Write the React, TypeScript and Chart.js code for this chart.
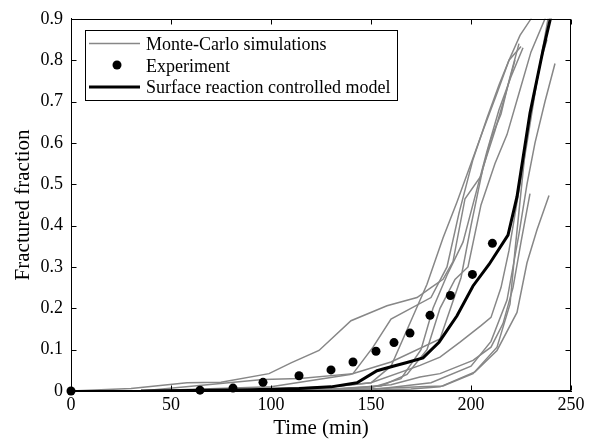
import React, { useEffect, useRef } from "react";
import { Chart, registerables } from "chart.js";

Chart.register(...registerables);

const FONT = "'Liberation Serif', 'Times New Roman', serif";

const xTickValues = [0, 50, 100, 150, 200, 250];
const yTickValues = [0, 0.1, 0.2, 0.3, 0.4, 0.5, 0.6, 0.7, 0.8, 0.9];

const legendLabels = ["Monte-Carlo simulations", "Experiment", "Surface reaction controlled model"];

// Experiment
const expTime = [0, 64.5, 81, 96, 114, 130, 141, 152.5, 161.5, 169.5, 179.5, 189.7, 200.7, 210.7];
const expFrac = [0, 0.002, 0.007, 0.021, 0.037, 0.051, 0.07, 0.096, 0.117, 0.14, 0.183, 0.231, 0.282, 0.357];

// Surface reaction controlled model
const modelTime = [35, 60, 90, 114, 130, 143, 153, 161, 168, 176, 184, 193, 201, 209, 218.5, 223, 229.5, 236, 239.5, 242];
const modelFrac = [0, 0.001, 0.003, 0.006, 0.01, 0.02, 0.049, 0.06, 0.069, 0.08, 0.118, 0.182, 0.254, 0.306, 0.377, 0.47, 0.672, 0.824, 0.896, 0.95];

// Monte-Carlo simulations: [time, fraction]
const mc1: [number, number][] = [[0, 0], [30, 0.006], [58, 0.02], [75, 0.021], [99, 0.042], [110, 0.068], [124, 0.098], [140, 0.17], [158, 0.206], [173, 0.226], [180, 0.25], [186, 0.27], [191, 0.313], [197, 0.465], [205, 0.52], [210, 0.61], [215, 0.67], [219, 0.75], [224, 0.84]];
const mc2: [number, number][] = [[35, 0], [96, 0.028], [114.5, 0.03], [141, 0.042], [151, 0.106], [160, 0.174], [180, 0.226], [188, 0.3], [194, 0.43], [201, 0.56], [208, 0.66], [214, 0.74], [219, 0.8], [225, 0.833]];
const mc3: [number, number][] = [[40, 0], [100, 0.005], [130, 0.01], [150, 0.02], [160, 0.06], [170, 0.17], [178, 0.258], [186, 0.37], [193, 0.457], [200, 0.55], [206, 0.63], [213, 0.72], [219, 0.8], [224.5, 0.86], [230, 0.9], [232, 0.95]];
const mc4: [number, number][] = [[60, 0], [120, 0.003], [150, 0.008], [165, 0.03], [175, 0.1], [181, 0.2], [188, 0.28], [196, 0.36], [202, 0.47], [208, 0.58], [214, 0.68], [220, 0.76], [226, 0.83]];
const mc5: [number, number][] = [[40, 0], [130, 0.005], [155, 0.012], [168, 0.04], [178, 0.1], [184.5, 0.2], [192, 0.27], [198.5, 0.3], [205, 0.45], [212, 0.55], [218, 0.62], [224, 0.72], [230, 0.82], [237, 0.9], [239, 0.95]];
const mc6: [number, number][] = [[50, 0], [120, 0.005], [150, 0.02], [174.5, 0.062], [184.5, 0.082], [194.5, 0.118], [205, 0.158], [210, 0.178], [215, 0.25], [219, 0.34], [224.5, 0.5], [228, 0.6], [233, 0.75], [238.5, 0.9], [240, 0.95]];
const mc7: [number, number][] = [[50, 0], [130, 0.003], [160, 0.015], [174.5, 0.034], [184.5, 0.042], [201, 0.074], [210, 0.106], [216, 0.163], [221, 0.25], [225, 0.36], [229.5, 0.477]];
const mc8: [number, number][] = [[60, 0], [140, 0.003], [174.5, 0.01], [186, 0.012], [201, 0.042], [213, 0.106], [219.5, 0.21], [222, 0.34], [227.5, 0.6], [231, 0.7], [235, 0.8], [238, 0.85]];
const mc9: [number, number][] = [[0, 0], [100, 0], [150, 0.002], [170, 0.005], [184.5, 0.01], [202, 0.046], [213, 0.098], [223, 0.19], [228, 0.31], [233, 0.39], [239, 0.473]];
const mc10: [number, number][] = [[80, 0], [150, 0.003], [180, 0.02], [200, 0.06], [210, 0.12], [218, 0.22], [224, 0.38], [228, 0.5], [232, 0.6], [237, 0.7], [242, 0.792]];
const mc11: [number, number][] = [[35, 0], [100, 0.01], [139.5, 0.04], [160, 0.07], [184.5, 0.126], [195, 0.274], [200, 0.4], [206, 0.54], [212, 0.63], [218, 0.73], [222, 0.8]];

const mcRuns = [mc1, mc2, mc3, mc4, mc5, mc6, mc7, mc8, mc9, mc10, mc11];

const GRAY = "rgb(135,135,135)";

function drawFrame(chart: any) {
  const ctx: CanvasRenderingContext2D = chart.ctx;
  const xs = chart.scales.x;
  const ys = chart.scales.y;
  const L = Math.round(xs.getPixelForValue(xTickValues[0])) + 0.5;
  const R = Math.round(xs.getPixelForValue(xTickValues[xTickValues.length - 1])) - 0.5;
  const T = Math.round(ys.getPixelForValue(yTickValues[yTickValues.length - 1])) + 0.5;
  const B = Math.round(ys.getPixelForValue(yTickValues[0])) - 0.5;
  ctx.save();
  ctx.strokeStyle = "#000000";
  ctx.lineWidth = 1;
  ctx.strokeRect(L, T, R - L, B - T);
  const tl = 5;
  for (const v of xTickValues) {
    const px = Math.round(xs.getPixelForValue(v)) + 0.5;
    ctx.beginPath();
    ctx.moveTo(px, B);
    ctx.lineTo(px, B - tl);
    ctx.stroke();
    ctx.beginPath();
    ctx.moveTo(px, T);
    ctx.lineTo(px, T + tl);
    ctx.stroke();
  }
  for (const v of yTickValues) {
    const py = Math.round(ys.getPixelForValue(v)) + 0.5;
    ctx.beginPath();
    ctx.moveTo(L, py);
    ctx.lineTo(L + tl, py);
    ctx.stroke();
    ctx.beginPath();
    ctx.moveTo(R, py);
    ctx.lineTo(R - tl, py);
    ctx.stroke();
  }
  ctx.restore();
}

function drawLegend(chart: any) {
  const ctx: CanvasRenderingContext2D = chart.ctx;
  ctx.save();
  ctx.fillStyle = "#ffffff";
  ctx.fillRect(86, 31, 311, 69);
  ctx.strokeStyle = "#000000";
  ctx.lineWidth = 1;
  ctx.strokeRect(85.5, 30.5, 312, 70);
  ctx.strokeStyle = GRAY;
  ctx.lineWidth = 1.5;
  ctx.beginPath();
  ctx.moveTo(89, 43.5);
  ctx.lineTo(140, 43.5);
  ctx.stroke();
  ctx.fillStyle = "#000000";
  ctx.beginPath();
  ctx.arc(117, 65, 4.5, 0, Math.PI * 2);
  ctx.fill();
  ctx.strokeStyle = "#000000";
  ctx.lineWidth = 3;
  ctx.beginPath();
  ctx.moveTo(89, 87);
  ctx.lineTo(140, 87);
  ctx.stroke();
  ctx.fillStyle = "#000000";
  ctx.font = `18px ${FONT}`;
  ctx.textBaseline = "alphabetic";
  ctx.textAlign = "left";
  const baselines = [50, 71.5, 93];
  legendLabels.forEach((t, i) => ctx.fillText(t, 146, baselines[i]));
  ctx.restore();
}

const framePlugin = {
  id: "frameAndLegend",
  afterDraw(chart: any) {
    drawFrame(chart);
    drawLegend(chart);
  },
};

export default function App() {
  const ref = useRef<HTMLCanvasElement | null>(null);
  useEffect(() => {
    if (!ref.current) return;
    const datasets: any[] = [];
    datasets.push({
      label: legendLabels[1],
      data: expTime.map((t, i) => ({ x: t, y: expFrac[i] })),
      showLine: false,
      pointRadius: 4.5,
      pointBackgroundColor: "#000",
      pointBorderWidth: 0,
      clip: false,
      order: 0,
    });
    datasets.push({
      label: legendLabels[2],
      data: modelTime.map((t, i) => ({ x: t, y: modelFrac[i] })),
      showLine: true,
      borderColor: "#000",
      borderWidth: 3,
      pointRadius: 0,
      tension: 0,
      order: 1,
    });
    mcRuns.forEach((run, k) => {
      datasets.push({
        label: `${legendLabels[0]} ${k + 1}`,
        data: run.map(([t, f]) => ({ x: t, y: f })),
        showLine: true,
        borderColor: GRAY,
        borderWidth: 1.5,
        pointRadius: 0,
        tension: 0,
        order: 2,
      });
    });
    const chart = new Chart(ref.current, {
      type: "scatter",
      data: { datasets },
      plugins: [framePlugin],
      options: {
        animation: false,
        responsive: false,
        maintainAspectRatio: false,
        layout: { padding: { left: 0, right: 20, top: 11, bottom: 0 } },
        plugins: { legend: { display: false }, tooltip: { enabled: false } },
        scales: {
          x: {
            type: "linear",
            min: 0,
            max: 250,
            grid: { display: true, drawOnChartArea: false, drawTicks: false, color: "#000" },
            border: { display: true, color: "#000", width: 1 },
            afterBuildTicks: (s: any) => {
              s.ticks = xTickValues.map((v) => ({ value: v }));
            },
            afterFit: (s: any) => {
              s.height = 57;
            },
            ticks: { color: "#000", font: { family: FONT, size: 18 }, padding: 3, maxRotation: 0 },
            title: {
              display: true,
              text: "Time (min)",
              color: "#000",
              font: { family: FONT, size: 21 },
              padding: { top: 0, bottom: 7 },
            },
          },
          y: {
            type: "linear",
            min: 0,
            max: 0.9,
            grid: { display: true, drawOnChartArea: false, drawTicks: false, color: "#000" },
            border: { display: true, color: "#000", width: 1 },
            afterBuildTicks: (s: any) => {
              s.ticks = yTickValues.map((v) => ({ value: v }));
            },
            afterFit: (s: any) => {
              s.width = 71;
            },
            ticks: {
              color: "#000",
              font: { family: FONT, size: 18 },
              padding: 8,
              callback: (v: any) => (v === 0 ? "0" : Number(v).toFixed(1)),
            },
            title: {
              display: true,
              text: "Fractured fraction",
              color: "#000",
              font: { family: FONT, size: 21 },
              padding: { top: 11, bottom: 0 },
            },
          },
        },
      },
    });
    return () => chart.destroy();
  }, []);
  return (
    <div style={{ position: "absolute", left: 0, top: 0, width: 591, height: 448, background: "#fff" }}>
      <canvas ref={ref} width={591} height={448} style={{ display: "block" }} />
    </div>
  );
}
